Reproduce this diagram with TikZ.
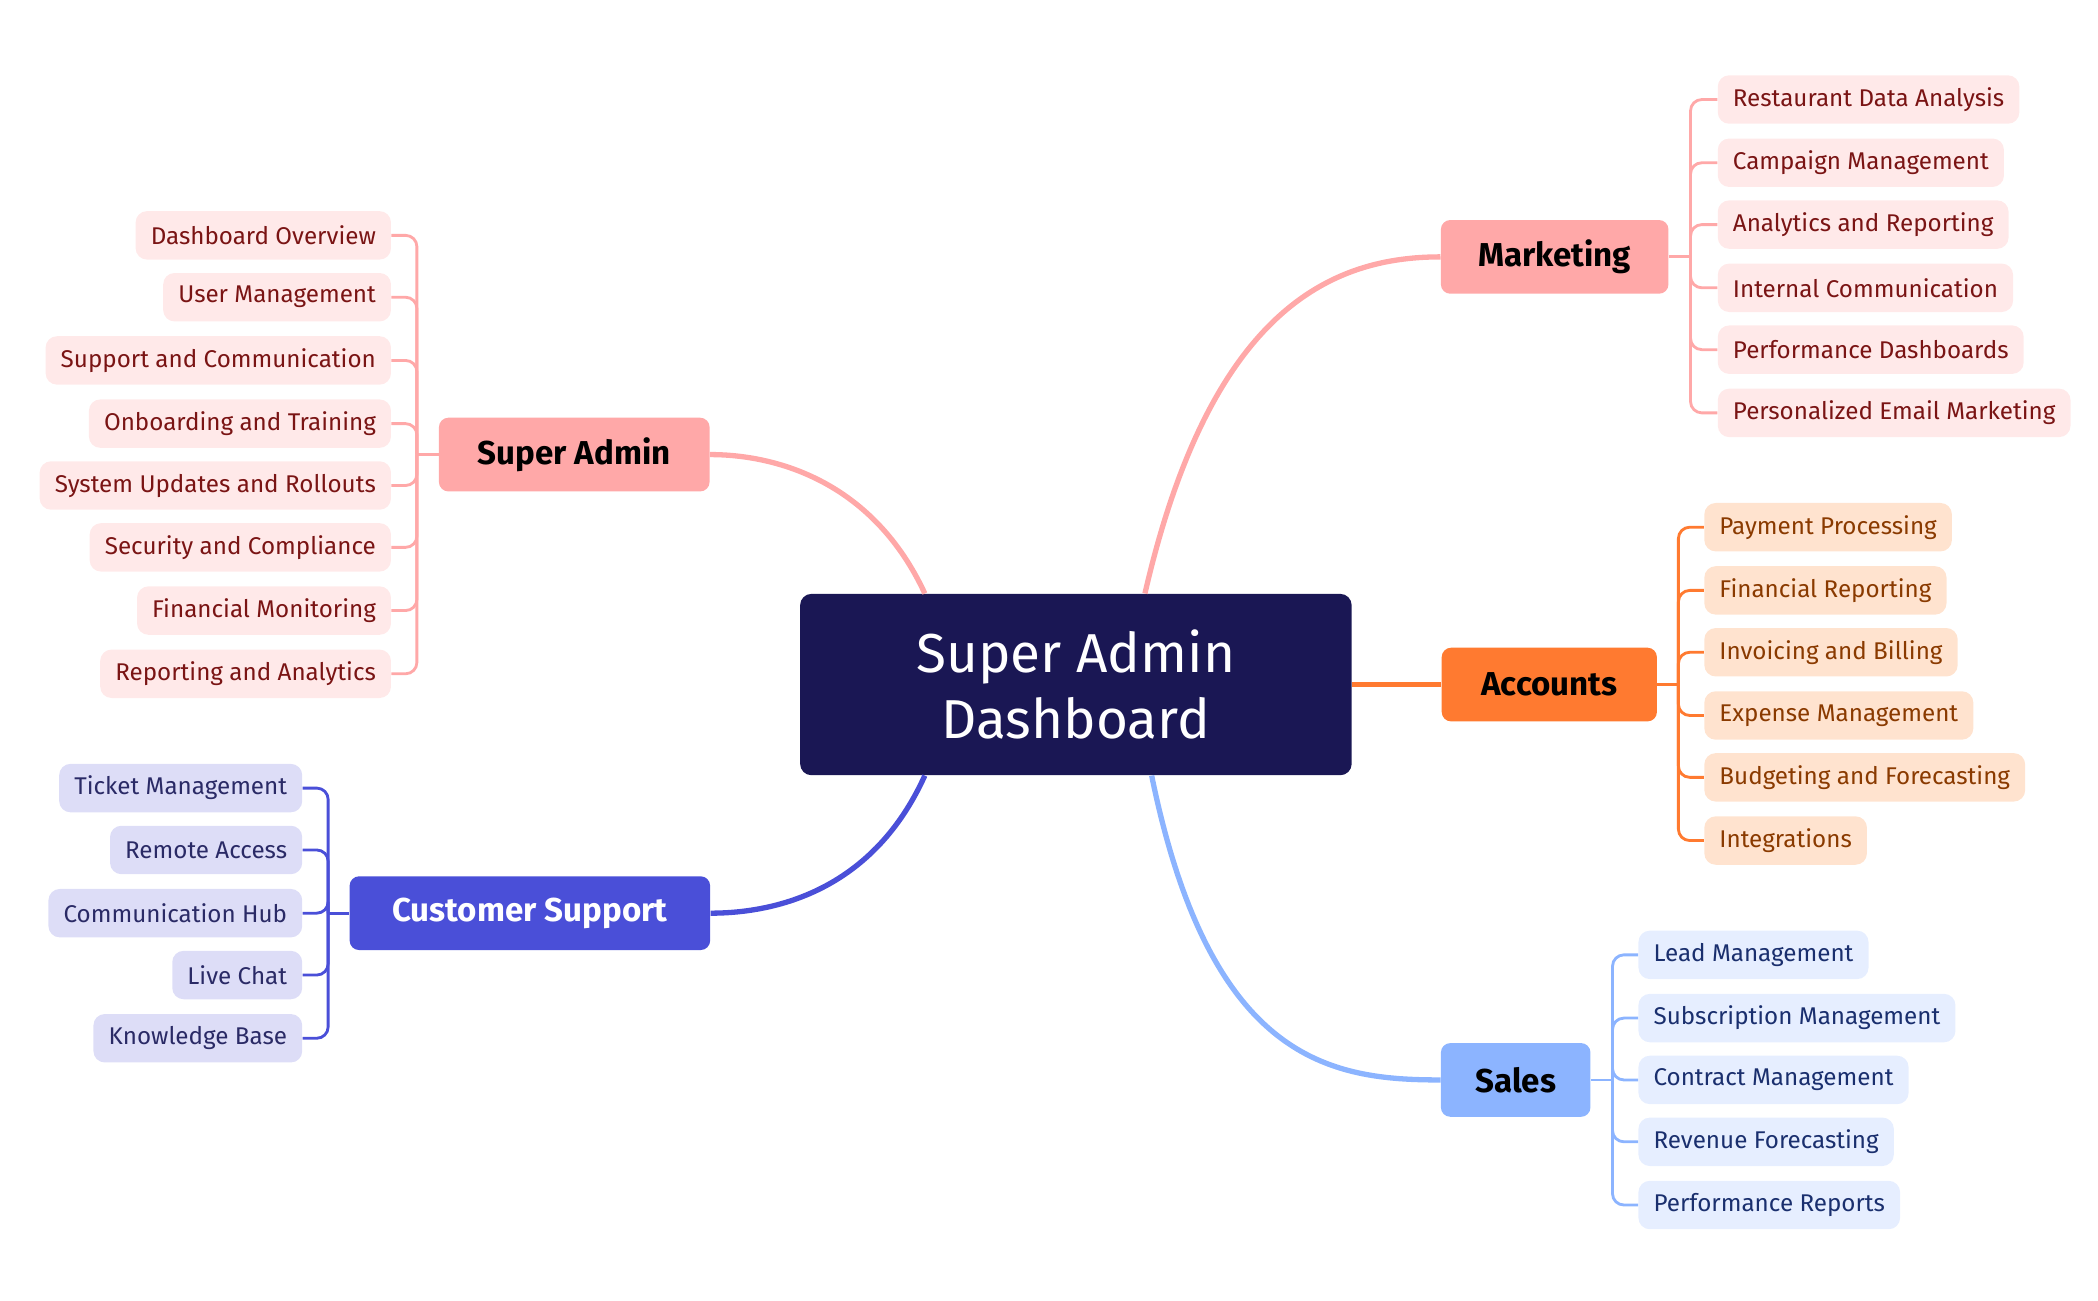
\documentclass[tikz,border=0pt]{standalone}
\usepackage{fontspec}
\setmainfont{Fira Sans}
\usetikzlibrary{positioning}
\definecolor{navy}{HTML}{1A1754}
\definecolor{mkfill}{HTML}{FFA8A8}
\definecolor{mkleaf}{HTML}{FFE9E9}
\definecolor{mktext}{HTML}{7A1414}
\definecolor{acfill}{HTML}{FF7A30}
\definecolor{acleaf}{HTML}{FFE3CF}
\definecolor{actext}{HTML}{8A3A00}
\definecolor{slfill}{HTML}{8CB4FF}
\definecolor{slleaf}{HTML}{E6EEFF}
\definecolor{sltext}{HTML}{1A2F6E}
\definecolor{csfill}{HTML}{4A4FD8}
\definecolor{csleaf}{HTML}{DDDDF7}
\definecolor{cstext}{HTML}{2A2A66}
\tikzset{
  branch/.style={rounded corners=5pt,minimum height=1.37cm,inner xsep=12pt,font=\fontsize{17.5}{20}\selectfont\bfseries},
  leaf/.style={rounded corners=6pt,minimum height=0.9cm,inner xsep=8pt,font=\fontsize{12.8}{15}\selectfont},
  trunk/.style={line width=2.8pt},
  twig/.style={line width=1.5pt,rounded corners=6pt}
}
\begin{document}
\begin{tikzpicture}[x=0.025cm,y=-0.025cm]
  \useasboundingbox (0,0) rectangle (1560,967);
  \node[fill=navy,text=white,rounded corners=6pt,minimum width=10.25cm,minimum height=3.37cm,align=center,font=\fontsize{29}{35}\selectfont] (root) at (800,509) {Super Admin\\Dashboard};
  \node[branch,fill=mkfill,minimum width=4.23cm] (mk) at (1156,191) {Marketing};
  \node[branch,fill=acfill,minimum width=4cm] (ac) at (1152,509) {Accounts};
  \node[branch,fill=slfill,minimum width=2.78cm] (sl) at (1127,803) {Sales};
  \node[branch,fill=mkfill,minimum width=5.03cm] (sa) at (427,338) {Super Admin};
  \node[branch,fill=csfill,text=white,minimum width=6.7cm] (cs) at (394,679) {Customer Support};
  % trunks
  \draw[trunk,mkfill] (root.north east) ++(-154,0) coordinate (r1) .. controls (900,230) and (990,191) .. (mk.west);
  \draw[trunk,acfill] (root.east) -- (ac.west);
  \draw[trunk,slfill] (root.south east) ++(-149,0) coordinate (r2) .. controls (900,790) and (990,803) .. (sl.west);
  \draw[trunk,mkfill] (root.north west) ++(93,0) coordinate (r3) .. controls (650,360) and (580,338) .. (sa.east);
  \draw[trunk,csfill] (root.south west) ++(93,0) coordinate (r4) .. controls (650,660) and (580,679) .. (cs.east);
  % right-hand leaves
  \coordinate (jmk) at (1257,191);
  \draw[twig,mkfill] (mk.east) -- (jmk);
  \foreach \y/\txt [count=\i] in {74/Restaurant Data Analysis,121/Campaign Management,167/Analytics and Reporting,214/Internal Communication,260/Performance Dashboards,307/Personalized Email Marketing}{
    \node[leaf,fill=mkleaf,text=mktext,anchor=west] (mk\i) at (1277,\y) {\txt};
    \draw[twig,mkfill] (jmk) |- (mk\i.west);
  }
  \coordinate (jac) at (1248,509);
  \draw[twig,acfill] (ac.east) -- (jac);
  \foreach \y/\txt [count=\i] in {392/Payment Processing,439/Financial Reporting,485/Invoicing and Billing,532/Expense Management,578/Budgeting and Forecasting,625/Integrations}{
    \node[leaf,fill=acleaf,text=actext,anchor=west] (ac\i) at (1267,\y) {\txt};
    \draw[twig,acfill] (jac) |- (ac\i.west);
  }
  \coordinate (jsl) at (1199,803);
  \draw[twig,slfill] (sl.east) -- (jsl);
  \foreach \y/\txt [count=\i] in {710/Lead Management,757/Subscription Management,803/Contract Management,849/Revenue Forecasting,896/Performance Reports}{
    \node[leaf,fill=slleaf,text=sltext,anchor=west] (sl\i) at (1218,\y) {\txt};
    \draw[twig,slfill] (jsl) |- (sl\i.west);
  }
  % left-hand leaves
  \coordinate (jsa) at (310,338);
  \draw[twig,mkfill] (sa.west) -- (jsa);
  \foreach \y/\txt [count=\i] in {175/Dashboard Overview,221/User Management,268/Support and Communication,315/Onboarding and Training,361/System Updates and Rollouts,407/Security and Compliance,454/Financial Monitoring,501/Reporting and Analytics}{
    \node[leaf,fill=mkleaf,text=mktext,anchor=east] (sa\i) at (291,\y) {\txt};
    \draw[twig,mkfill] (jsa) |- (sa\i.east);
  }
  \coordinate (jcs) at (244,679);
  \draw[twig,csfill] (cs.west) -- (jcs);
  \foreach \y/\txt [count=\i] in {586/Ticket Management,632/Remote Access,679/Communication Hub,725/Live Chat,772/Knowledge Base}{
    \node[leaf,fill=csleaf,text=cstext,anchor=east] (cs\i) at (225,\y) {\txt};
    \draw[twig,csfill] (jcs) |- (cs\i.east);
  }
\end{tikzpicture}
\end{document}
